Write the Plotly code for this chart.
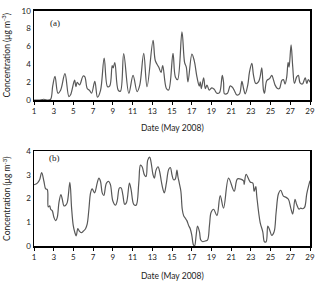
import plotly.graph_objects as go

# Panel (a) readings: day of May 2008, concentration (µg m-3)
days_a = [1.0, 1.5, 2.0, 2.4, 2.69, 2.9, 3.13, 3.43, 3.70, 4.14, 4.54, 4.71, 5.12, 5.25, 5.39, 5.62,
          5.99, 6.16, 6.40, 6.63, 6.84, 7.17, 7.44, 7.75, 8.12, 8.46, 8.69, 8.93, 9.03, 9.20, 9.54,
          9.77, 10.1, 10.62, 11.05, 11.46, 11.73, 12.13, 12.47, 13.08, 13.31, 13.65, 13.89, 14.06,
          14.43, 14.66, 15.10, 15.34, 15.57, 16.01, 16.28, 16.45, 16.62, 17.02, 17.26, 17.53, 17.77,
          17.87, 17.97, 18.21, 18.38, 18.55, 18.78, 19.05, 19.29, 19.55, 19.82, 20.1, 20.23, 20.33,
          20.63, 20.91, 21.14, 21.31, 21.58, 21.85, 22.09, 22.26, 22.43, 22.69, 22.86, 23.10, 23.27,
          23.50, 23.77, 23.94, 24.11, 24.28, 24.38, 24.62, 24.89, 25.12, 25.29, 25.46, 25.70, 25.90,
          26.14, 26.30, 26.47, 26.64, 26.78, 26.88, 27.08, 27.25, 27.42, 27.65, 27.82, 27.99, 28.23,
          28.43, 28.53, 28.67, 28.83, 29.0]
conc_a = [0.0, 0.0, 0.1, 0.0, 0.1, 1.6, 2.66, 0.77, 1.1, 2.96, 0.4, 0.6, 2.23, 1.5, 2.0, 1.7,
          2.7, 2.6, 1.3, 1.1, 0.77, 2.1, 0.33, 1.1, 4.7, 1.5, 1.6, 3.87, 3.6, 4.2, 1.13,
          1.0, 5.2, 0.77, 2.77, 0.95, 1.68, 5.22, 1.5, 6.68, 4.4, 3.7, 3.1, 3.87,
          1.3, 1.13, 5.22, 2.6, 2.3, 7.63, 4.2, 3.7, 2.04, 5.15, 4.4, 2.6, 1.57,
          2.04, 1.3, 2.48, 1.3, 1.68, 1.13, 1.38, 1.2, 0.77, 0.84, 2.77, 2.0, 0.7,
          0.77, 1.6, 1.42, 1.1, 0.58, 0.7, 2.1, 1.3, 0.7, 1.7, 3.14, 4.12, 2.77,
          1.86, 2.04, 2.6, 3.6, 1.13, 0.77, 2.2, 2.4, 2.77, 2.3, 1.68, 1.3, 1.3,
          2.2, 2.3, 1.8, 2.6, 4.23, 3.7, 6.17, 3.7, 1.86, 2.6, 2.77, 1.93, 1.8,
          2.3, 2.5, 1.86, 2.3, 2.0]

# Panel (b) readings
days_b = [1.0, 1.34, 1.57, 1.78, 2.01, 2.18, 2.35, 2.45, 2.59, 2.69, 2.86, 3.02, 3.19, 3.36, 3.53,
          3.73, 3.87, 4.04, 4.21, 4.37, 4.64, 4.81, 4.98, 5.15, 5.28, 5.45, 5.62, 5.82, 5.99, 6.23,
          6.40, 6.57, 6.74, 6.90, 7.14, 7.41, 7.58, 7.75, 7.92, 8.08, 8.35, 8.59, 8.76, 9.0, 9.27,
          9.44, 9.67, 9.84, 10.01, 10.2, 10.38, 10.68, 10.85, 11.12, 11.36, 11.63, 11.80, 11.97,
          12.20, 12.37, 12.54, 12.74, 12.87, 13.08, 13.21, 13.38, 13.58, 13.75, 13.92, 14.09, 14.22,
          14.43, 14.66, 14.83, 15.0, 15.16, 15.33, 15.50, 15.60, 15.74, 15.90, 16.04, 16.18, 16.35,
          16.51, 16.68, 16.85, 17.01, 17.18, 17.29, 17.45, 17.59, 17.79, 17.92, 18.13, 18.36, 18.60,
          18.80, 18.97, 19.22, 19.56, 19.89, 20.23, 20.74, 21.31, 21.65, 22.26, 22.32, 22.52, 22.93,
          23.20, 23.33, 23.50, 23.60, 23.94, 24.21, 24.38, 24.55, 24.72, 24.89, 25.12, 25.36, 25.56,
          25.80, 26.03, 26.30, 26.57, 26.81, 27.05, 27.25, 27.48, 27.65, 27.89, 28.06, 28.26, 28.46,
          28.67, 28.90, 29.0]
conc_b = [2.58, 2.65, 2.79, 3.09, 2.72, 2.41, 2.38, 1.65, 1.69, 1.55, 1.48, 1.21, 1.07, 1.21, 1.83,
          2.17, 1.97, 1.69, 1.72, 1.83, 2.68, 1.62, 0.87, 0.56, 0.43, 0.73, 0.62, 0.56, 0.62, 0.73,
          0.93, 1.55, 2.24, 2.41, 2.24, 2.65, 2.86, 2.72, 2.24, 2.13, 2.65, 2.72, 2.58, 1.9, 1.72,
          1.9, 2.45, 2.45, 2.17, 1.76, 1.83, 2.65, 2.38, 1.76, 1.72, 2.65, 3.41, 3.34,
          3.0, 2.93, 3.62, 3.75, 3.55, 3.0, 2.86, 3.2, 3.34, 3.13, 2.72, 2.38, 2.24,
          2.65, 3.23, 3.31, 3.0, 2.79, 2.82, 3.2, 2.93, 2.65, 2.31, 1.55, 1.28, 1.17,
          1.07, 0.87, 0.73, 0.45, 0.04, 0.0, 0.45, 0.84, 0.59, 0.25, 0.18, 0.21, 0.25,
          0.87, 1.42, 1.55, 1.28, 2.13, 1.6, 2.86, 2.31, 2.83, 2.75, 2.6, 3.02, 2.7,
          2.65, 2.3, 2.5, 2.1, 1.0, 0.6, 0.18, 0.18, 0.84, 0.7, 0.45, 0.6, 1.4,
          2.2, 2.35, 2.1, 2.05, 1.97, 1.6, 1.35, 1.97, 1.75, 1.55, 1.6, 1.57, 1.64,
          2.2, 2.6, 2.75]

x_ticks = list(range(1, 30, 2))
y_ticks_a = [0, 2, 4, 6, 8, 10]
y_ticks_b = [0, 1, 2, 3, 4]

FONT = "Lato, Liberation Sans, sans-serif"
LINE = "#585858"

fig = go.Figure()
fig.add_trace(go.Scatter(x=days_a, y=conc_a, mode="lines", xaxis="x", yaxis="y",
                         line=dict(color=LINE, width=1.2, shape="spline", smoothing=1.0),
                         showlegend=False, hoverinfo="skip"))
fig.add_trace(go.Scatter(x=days_b, y=conc_b, mode="lines", xaxis="x2", yaxis="y2",
                         line=dict(color=LINE, width=1.2, shape="spline", smoothing=1.0),
                         showlegend=False, hoverinfo="skip"))

xcommon = dict(range=[1, 29], tickvals=x_ticks, ticks="outside", ticklen=3, tickwidth=1,
               tickcolor="black", showline=True, linecolor="black", linewidth=1.5, mirror=True,
               showgrid=False, zeroline=False, tickfont=dict(family=FONT, size=8, color="#222"))
ycommon = dict(ticks="", showline=True, linecolor="black", linewidth=1.5, mirror=True,
               showgrid=False, zeroline=False, tickfont=dict(family=FONT, size=8, color="#222"))

fig.update_layout(
    width=320, height=281,
    margin=dict(l=34, r=8, t=5, b=35),
    paper_bgcolor="white", plot_bgcolor="white",
    xaxis=dict(domain=[0, 1], anchor="y", **xcommon),
    yaxis=dict(domain=[0.618, 0.997], anchor="x", range=[0, 10], tickvals=y_ticks_a, **ycommon),
    xaxis2=dict(domain=[0, 1], anchor="y2", **xcommon),
    yaxis2=dict(domain=[0, 0.402], anchor="x2", range=[0, 4], tickvals=y_ticks_b, **ycommon),
)

ann_font = dict(family=FONT, size=8.5, color="#222")
annotations = [
    dict(text="Date (May 2008)", x=0.5, y=0.502, xref="paper", yref="paper",
         showarrow=False, font=ann_font, xanchor="center", yanchor="middle"),
    dict(text="Date (May 2008)", x=0.5, y=-0.129, xref="paper", yref="paper",
         showarrow=False, font=ann_font, xanchor="center", yanchor="middle"),
    dict(text="Concentration (μg m<sup>-3</sup>)", x=-0.1, y=0.809, xref="paper", yref="paper",
         showarrow=False, font=ann_font, textangle=-90, xanchor="center", yanchor="middle"),
    dict(text="Concentration (μg m<sup>-3</sup>)", x=-0.1, y=0.201, xref="paper", yref="paper",
         showarrow=False, font=ann_font, textangle=-90, xanchor="center", yanchor="middle"),
    dict(text="(a)", x=0.075, y=0.945, xref="paper", yref="paper", showarrow=False,
         font=dict(family="Liberation Serif, serif", size=9, color="#222"), xanchor="center", yanchor="middle"),
    dict(text="(b)", x=0.075, y=0.375, xref="paper", yref="paper", showarrow=False,
         font=dict(family="Liberation Serif, serif", size=9, color="#222"), xanchor="center", yanchor="middle"),
]
fig.update_layout(annotations=annotations)

fig.write_html("out.html", config={"displayModeBar": False, "staticPlot": True},
               post_script="document.body.style.margin='0';")
